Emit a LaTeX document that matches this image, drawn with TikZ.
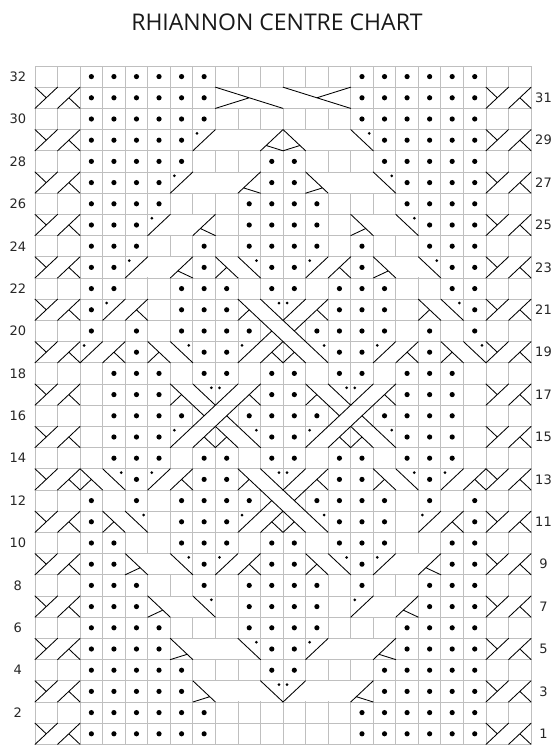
\documentclass[tikz,border=0pt]{standalone}
\usepackage{fontspec}
\setmainfont{DejaVu Sans}
\newfontfamily\titlefont{Open Sans}

% purl dot in cell (col,row)
\newcommand{\pdot}[2]{\fill (#1-0.5,#2-0.5) circle (2.6pt);}
% white ground over the inner grid lines of a cable of width #3 at (col,row)
\newcommand{\cablebg}[3]{\fill[white] (#1-1+0.03,#2-1+0.03) rectangle (#1-1+#3-0.03,#2-0.03);}
% k/1 right purl cross: (col,row,k)
\newcommand{\rpc}[3]{%
  \cablebg{#1}{#2}{#3+1}
  \begin{scope}[shift={(#1-1,#2-1)}]
    \draw[stroke] (0,0) -- (1,1) (#3,0) -- (#3+1,1) (#3+1,0) -- ({#3+1/(#3+1)},{1/(#3+1)});
    \fill (0.18,0.82) circle (1.5pt);
  \end{scope}}
% k/1 left purl cross: (col,row,k)
\newcommand{\lpc}[3]{%
  \cablebg{#1}{#2}{#3+1}
  \begin{scope}[shift={(#1-1,#2-1)}]
    \draw[stroke] (#3+1,0) -- (#3,1) (1,0) -- (0,1) (0,0) -- ({#3/(#3+1)},{1/(#3+1)});
    \fill (#3+0.82,0.82) circle (1.5pt);
  \end{scope}}
% n/n right cross: (col,row,n)
\newcommand{\rcross}[3]{%
  \cablebg{#1}{#2}{2*#3}
  \begin{scope}[shift={(#1-1,#2-1)}]
    \draw[stroke] (0,0) -- (#3,1) (#3,0) -- (2*#3,1) (0,1) -- (#3/2,0.5) (2*#3,0) -- (1.5*#3,0.5);
  \end{scope}}
% n/n left cross: (col,row,n)
\newcommand{\lcross}[3]{%
  \cablebg{#1}{#2}{2*#3}
  \begin{scope}[shift={(#1-1,#2-1)}]
    \draw[stroke] (0,1) -- (#3,0) (#3,1) -- (2*#3,0) (0,0) -- (#3/2,0.5) (2*#3,1) -- (1.5*#3,0.5);
  \end{scope}}

\begin{document}
\begin{tikzpicture}[x=1pt, y=1pt,
  gridline/.style={draw=black!25, line width=0.9pt},
  stroke/.style={line width=0.85pt, line cap=round},
  rowlabel/.style={font=\fontsize{13}{13}\selectfont, text=black!85}]
  \useasboundingbox (0,0) rectangle (557,747);
  \node[font=\titlefont\fontsize{23}{23}\selectfont, text=black!90] (title) at (277,725) {RHIANNON CENTRE CHART};

  \begin{scope}[shift={(35,2.6)}, x=22.55pt, y=21.2pt]
    % grid
    \foreach \c in {0,...,22} \draw[gridline] (\c,0) -- (\c,32);
    \foreach \r in {0,...,32} \draw[gridline] (0,\r) -- (22,\r);
    % row numbers
    \foreach \r in {2,4,...,32} \node[rowlabel] (l\r) at (-0.76,\r-0.5) {\r};
    \foreach \r in {1,3,...,31} \node[rowlabel] (r\r) at (22.55,\r-0.5) {\r};

    % purl stitches
    \foreach \r/\cl in {32/{3,4,5,6,7,8,15,16,17,18,19,20}, 31/{3,4,5,6,7,8,15,16,17,18,19,20},
        30/{3,4,5,6,7,8,15,16,17,18,19,20}, 29/{3,4,5,6,7,16,17,18,19,20},
        28/{3,4,5,6,7,11,12,16,17,18,19,20}, 27/{3,4,5,6,11,12,17,18,19,20},
        26/{3,4,5,6,10,11,12,13,17,18,19,20}, 25/{3,4,5,10,11,12,13,18,19,20},
        24/{3,4,5,8,10,11,12,13,15,18,19,20}, 23/{3,4,8,11,12,15,19,20},
        22/{3,4,7,8,9,11,12,14,15,16,19,20}, 21/{3,7,8,9,14,15,16,20},
        20/{3,5,7,8,9,10,13,14,15,16,18,20}, 19/{5,8,9,14,15,18},
        18/{4,5,6,8,9,11,12,14,15,17,18,19}, 17/{4,5,6,11,12,17,18,19},
        16/{4,5,6,7,10,11,12,13,16,17,18,19}, 15/{4,5,6,11,12,17,18,19},
        14/{4,5,6,8,9,11,12,14,15,17,18,19}, 13/{5,8,9,14,15,18},
        12/{3,5,7,8,9,10,13,14,15,16,18,20}, 11/{3,7,8,9,14,15,16,20},
        10/{3,4,7,8,9,11,12,14,15,16,19,20}, 9/{3,4,8,11,12,15,19,20},
        8/{3,4,5,8,10,11,12,13,15,18,19,20}, 7/{3,4,5,10,11,12,13,18,19,20},
        6/{3,4,5,6,10,11,12,13,17,18,19,20}, 5/{3,4,5,6,11,12,17,18,19,20},
        4/{3,4,5,6,7,11,12,16,17,18,19,20}, 3/{3,4,5,6,7,16,17,18,19,20},
        2/{3,4,5,6,7,8,15,16,17,18,19,20}, 1/{3,4,5,6,7,8,15,16,17,18,19,20}}
      {\foreach \c in \cl {\pdot{\c}{\r}}}

    % edge crosses
    \foreach \r in {1,3,...,31} {\rcross{1}{\r}{1} \rcross{21}{\r}{1}}

    % centre cables
    \lcross{9}{31}{3}
    \rpc{8}{29}{3} \lpc{12}{29}{3}
    \rpc{7}{27}{3} \lpc{13}{27}{3}
    \rpc{6}{25}{2} \lpc{15}{25}{2}
    \rpc{5}{23}{2} \lpc{9}{23}{1} \rpc{13}{23}{1} \lpc{16}{23}{2}
    \rpc{4}{21}{1} \lpc{10}{21}{1} \rpc{12}{21}{1} \lpc{18}{21}{1}
    \lcross{11}{20}{1}
    \rpc{3}{19}{1} \lpc{6}{19}{1} \rpc{10}{19}{1} \lpc{12}{19}{1} \rpc{16}{19}{1} \lpc{19}{19}{1}
    \lpc{7}{17}{1} \rpc{9}{17}{1} \lpc{13}{17}{1} \rpc{15}{17}{1}
    \rcross{8}{16}{1} \rcross{14}{16}{1}
    \rpc{7}{15}{1} \lpc{9}{15}{1} \rpc{13}{15}{1} \lpc{15}{15}{1}
    \lpc{3}{13}{1} \rpc{6}{13}{1} \lpc{10}{13}{1} \rpc{12}{13}{1} \lpc{16}{13}{1} \rpc{19}{13}{1}
    \lcross{11}{12}{1}
    \lpc{4}{11}{1} \rpc{10}{11}{1} \lpc{12}{11}{1} \rpc{18}{11}{1}
    \lpc{5}{9}{2} \rpc{9}{9}{1} \lpc{13}{9}{1} \rpc{16}{9}{2}
    \lpc{6}{7}{2} \rpc{15}{7}{2}
    \lpc{7}{5}{3} \rpc{13}{5}{3}
    \lpc{8}{3}{3} \rpc{12}{3}{3}
  \end{scope}
\end{tikzpicture}
\end{document}
